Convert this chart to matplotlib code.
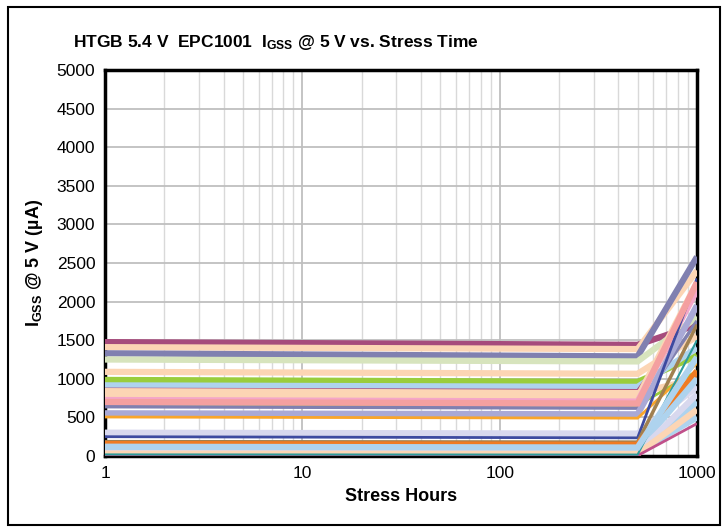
import matplotlib
matplotlib.use("Agg")
import matplotlib.pyplot as plt
from matplotlib.patches import Rectangle
from matplotlib.ticker import LogLocator, NullFormatter

plt.rcParams['font.family'] = ['Liberation Sans', 'DejaVu Sans']
plt.rcParams['mathtext.default'] = 'regular'

hours = [1, 500, 1000]

colors = ['#A64B7C', '#FCD5B4', '#8080B0', '#D7E4BD', '#FCD5B4', '#9ACD3C',
          '#AED3EE', '#A64B7C', '#FCD5B4', '#FCD5B4', '#F4A6C8', '#9ACD3C',
          '#8080B0', '#A9A9D6', '#F9A52A', '#D8D8EE', '#3D4AA0', '#A08050',
          '#F07B22', '#AED3EE', '#AED3EE', '#AED3EE', '#D8D8EE', '#FCD5B4',
          '#C0508A', '#2E9C9C', '#F4A0A0', '#AED3EE']
widths = [4.5, 4.5, 4.5, 4.5, 4.5, 4.5, 4.5, 2.0, 4.5, 4.5, 4.5, 2.0,
          2.5, 4.5, 2.0, 4.5, 2.0, 2.5, 4.5, 4.5, 4.5, 4.5, 4.5, 4.5,
          2.0, 1.5, 4.5, 4.5]
igss_1h = [1475, 1410, 1330, 1250, 1090, 985, 915, 868, 840, 780, 725, 673,
           639, 553, 505, 302, 250, 186, 155, 100, 80, 60, 40, 30,
           5, 20, 700, 120]
igss_500h = [1440, 1385, 1290, 1225, 1065, 960, 895, 850, 815, 760, 705, 655,
             620, 540, 490, 290, 235, 180, 145, 95, 75, 55, 38, 28,
             5, 18, 680, 110]
igss_1000h = [1700, 2400, 2580, 1800, 1550, 1300, 1400, 1900, 1000, 2250, 2150, 1100,
              1750, 1950, 1200, 900, 2300, 1700, 1100, 1000, 700, 500, 800, 600,
              420, 1500, 2250, 1280]

xticks = [1, 10, 100, 1000]
yticks = list(range(0, 5001, 500))

fig = plt.figure(figsize=(7.25, 5.27), dpi=100)
fig.patches.append(Rectangle((8/725, 1-525/527), (720-8)/725, (525-7)/527,
                             transform=fig.transFigure, fill=False,
                             edgecolor='black', linewidth=1.5, zorder=10))
ax = fig.add_axes([105/725, 1-456/527, (697-105)/725, (456-70)/527])

for c, w, a, b, e in zip(colors, widths, igss_1h, igss_500h, igss_1000h):
    ax.plot(hours, [a, b, e], color=c, linewidth=w, solid_capstyle='butt',
            solid_joinstyle='miter', zorder=3)

ax.set_xscale('log')
ax.set_xlim(1, 1000)
ax.set_ylim(0, 5000)
ax.set_xticks(xticks)
ax.set_xticklabels([str(t) for t in xticks])
ax.xaxis.set_minor_locator(LogLocator(base=10, subs=range(2, 10)))
ax.xaxis.set_minor_formatter(NullFormatter())
ax.set_yticks(yticks)
ax.set_yticklabels([str(t) for t in yticks])

ax.grid(which='major', axis='both', color='#BFBFBF', linewidth=1.3, zorder=0)
ax.grid(which='minor', axis='x', color='#D9D9D9', linewidth=1.0, zorder=0)
ax.set_axisbelow(True)
ax.tick_params(which='both', length=0, labelsize=12.5, pad=7)
for s in ax.spines.values():
    s.set_linewidth(2.5)
    s.set_color('black')

ax.set_xlabel('Stress Hours', fontsize=13, fontweight='bold', labelpad=5)
ax.set_ylabel('I$_{GSS}$ @ 5 V (µA)', fontsize=13, fontweight='bold', labelpad=8)
fig.text(73/725, 1-43/527, 'HTGB 5.4 V  EPC1001  I$_{GSS}$ @ 5 V vs. Stress Time',
         fontsize=12.5, fontweight='bold', ha='left', va='center')

fig.savefig('out.png', dpi=100, facecolor='white')
